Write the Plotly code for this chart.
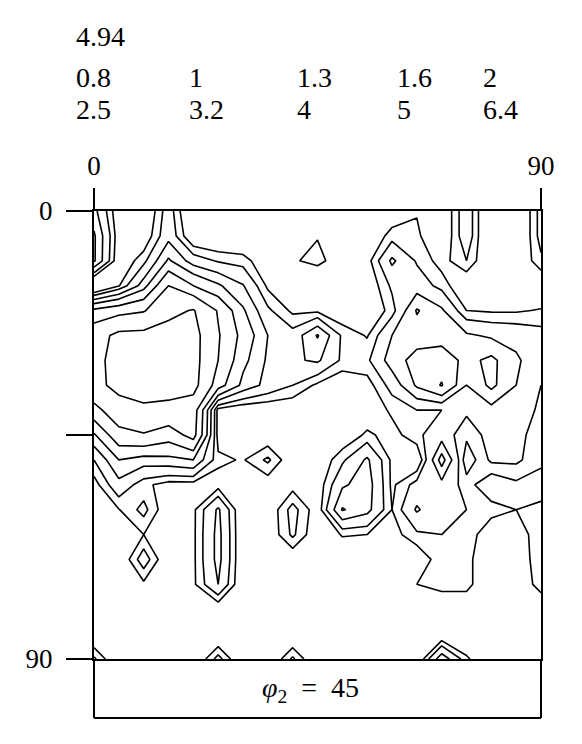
import plotly.graph_objects as go

# grid of the ODF section (phi1 across, Phi down), 5 degree steps
phi1 = list(range(0, 91, 5))
Phi = list(range(0, 91, 5))
levels = [0.8, 1, 1.3, 1.6, 2, 2.5, 3.2, 4, 5, 6.4]
legend_row1 = ["0.8", "1", "1.3", "1.6", "2"]
legend_row2 = ["2.5", "3.2", "4", "5", "6.4"]
max_label = "4.94"
x_ticks = [0, 90]
x_ticktext = ["0", "90"]
y_ticks = [0, 90]
y_ticktext = ["0", "90"]
y_minor_ticks = [45]

row_00 = [1.4, 0.6, 0.5, 1.15, 0.4, 0.5, 0.5, 0.5, 0.5, 0.55, 0.5, 0.5, 0.6, 0.78, 0.53, 1.2, 0.37, 0.42, 1.1]
row_05 = [1.65, 0.65, 0.61, 1.2, 0.55, 0.5, 0.5, 0.5, 0.6, 0.79, 0.6, 0.55, 0.9, 0.85, 0.53, 1.2, 0.37, 0.42, 1.1]
row_10 = [1.65, 0.6, 0.92, 1.65, 1.15, 0.97, 0.9, 0.6, 0.78, 0.85, 0.7, 0.7, 1.36, 0.97, 0.7, 1.0, 0.5, 0.55, 0.95]
row_15 = [0.3, 0.78, 1.45, 2.5, 2.0, 1.65, 1.32, 0.75, 0.6, 0.6, 0.6, 0.6, 1.05, 1.15, 0.92, 0.55, 0.45, 0.5, 0.55]
row_20 = [2.1, 2.3, 2.45, 3.0, 3.25, 2.45, 1.65, 1.05, 0.75, 0.75, 0.6, 0.55, 0.9, 1.63, 1.35, 0.8, 0.77, 0.77, 0.82]
row_25 = [2.9, 3.37, 3.4, 3.5, 3.45, 2.55, 1.85, 1.3, 1.1, 1.63, 0.95, 0.78, 1.3, 1.45, 1.45, 1.35, 1.25, 1.2, 1.1]
row_30 = [3.0, 3.45, 3.5, 3.55, 3.45, 2.5, 1.7, 1.25, 1.25, 1.35, 0.95, 0.95, 1.45, 1.72, 1.8, 1.5, 1.68, 1.35, 1.1]
row_35 = [3.0, 3.4, 3.45, 3.5, 3.45, 2.2, 1.5, 1.2, 1.0, 0.75, 0.6, 0.7, 1.1, 1.65, 2.03, 1.3, 1.68, 1.3, 1.0]
row_40 = [2.3, 2.9, 3.1, 3.0, 2.8, 0.7, 0.6, 0.6, 0.6, 0.55, 0.55, 0.6, 0.85, 1.0, 1.0, 1.05, 1.2, 1.15, 0.95]
row_45 = [1.55, 2.3, 2.45, 2.2, 2.7, 0.7, 0.6, 0.6, 0.55, 0.55, 0.6, 0.85, 0.7, 0.95, 1.15, 0.85, 1.1, 1.1, 0.85]
row_50 = [1.0, 1.6, 1.45, 1.5, 1.6, 0.85, 0.78, 1.05, 0.6, 0.6, 0.95, 1.35, 0.75, 0.55, 1.75, 0.65, 1.05, 1.05, 0.85]
row_55 = [0.7, 1.2, 0.86, 0.7, 0.7, 0.7, 0.6, 0.65, 0.7, 0.65, 1.25, 1.45, 0.75, 1.1, 1.2, 0.9, 0.6, 0.75, 0.7]
row_60 = [0.6, 0.79, 1.08, 0.6, 0.75, 1.35, 0.55, 0.6, 1.1, 0.65, 1.63, 1.4, 0.8, 1.34, 1.05, 1.0, 0.9, 0.8, 0.85]
row_65 = [0.5, 0.55, 0.8, 0.55, 0.75, 1.4, 0.55, 0.6, 1.05, 0.6, 0.82, 0.8, 0.7, 0.95, 1.0, 0.95, 0.6, 0.6, 1.0]
row_70 = [0.5, 0.55, 1.15, 0.55, 0.75, 1.4, 0.55, 0.55, 0.6, 0.55, 0.6, 0.55, 0.5, 0.6, 0.95, 0.9, 0.5, 0.55, 1.0]
row_75 = [0.5, 0.5, 0.75, 0.5, 0.75, 1.3, 0.55, 0.5, 0.5, 0.5, 0.5, 0.5, 0.5, 0.8, 0.9, 0.9, 0.5, 0.6, 0.9]
row_80 = [0.5, 0.5, 0.5, 0.5, 0.5, 0.6, 0.5, 0.5, 0.5, 0.5, 0.5, 0.5, 0.5, 0.5, 0.55, 0.55, 0.5, 0.5, 0.6]
row_85 = [0.5, 0.45, 0.45, 0.45, 0.45, 0.5, 0.45, 0.45, 0.5, 0.45, 0.45, 0.45, 0.45, 0.45, 0.55, 0.5, 0.45, 0.45, 0.45]
row_90 = [1.05, 0.5, 0.45, 0.45, 0.5, 1.1, 0.5, 0.5, 1.05, 0.5, 0.45, 0.45, 0.45, 0.55, 1.5, 0.85, 0.5, 0.45, 0.45]

z = [row_00, row_05, row_10, row_15, row_20, row_25, row_30, row_35, row_40,
     row_45, row_50, row_55, row_60, row_65, row_70, row_75, row_80, row_85, row_90]

FONT = "Liberation Serif"
OFF = 8                      # page margin of the html body
PAGE_W, PAGE_H = 582, 744
L, R, T, B = 94, 541, 211, 659   # plot area in page pixels
W, H = PAGE_W - OFF, PAGE_H - OFF


def px(xp):
    return (xp - L) / (R - L)


def py(yp):
    return (B - yp) / (B - T)


fig = go.Figure()
for lv in levels:
    fig.add_trace(go.Contour(
        x=phi1, y=Phi, z=z, autocontour=False,
        contours=dict(start=lv, end=lv, size=1, coloring="none"),
        line=dict(color="black", width=1.6, smoothing=0),
        showscale=False, hoverinfo="skip"))

tickfont = dict(family=FONT, size=27, color="black")
axis_common = dict(showgrid=False, zeroline=False, showline=True, linewidth=2,
                   linecolor="black", mirror=True, ticks="outside", tickwidth=2,
                   tickcolor="black", tickfont=tickfont)

fig.update_layout(
    width=W, height=H,
    margin=dict(l=L - OFF, r=W - (R - OFF), t=T - OFF, b=H - (B - OFF), pad=0),
    paper_bgcolor="white", plot_bgcolor="white",
    showlegend=False,
    xaxis=dict(range=[0, 90], side="top", tickvals=x_ticks, ticktext=x_ticktext,
               ticklen=21, ticklabelstandoff=2, **axis_common),
    yaxis=dict(range=[90, 0], tickvals=y_ticks, ticktext=y_ticktext,
               ticklen=26, ticklabelstandoff=8,
               minor=dict(tickvals=y_minor_ticks, ticks="outside", ticklen=26,
                          tickwidth=2, tickcolor="black", showgrid=False),
               **axis_common),
)

# box below the section holding its label
box_bottom = 718
for x0, y0, x1, y1 in [(L, B, L, box_bottom), (R, B, R, box_bottom), (L, box_bottom, R, box_bottom)]:
    fig.add_shape(type="line", xref="paper", yref="paper",
                  x0=px(x0), y0=py(y0), x1=px(x1), y1=py(y1),
                  line=dict(color="black", width=2))

fig.add_annotation(xref="paper", yref="paper", x=px(310), y=py(689),
                   text="<i>φ</i><sub>2</sub>&nbsp; = &nbsp;45", showarrow=False,
                   font=dict(family=FONT, size=28, color="black"),
                   xanchor="center", yanchor="middle")

# level legend
legfont = dict(family=FONT, size=28, color="black")
fig.add_annotation(xref="paper", yref="paper", x=px(74), y=py(36), text=max_label,
                   showarrow=False, font=legfont, xanchor="left", yanchor="middle")
cols_x = [74, 187, 295, 395, 481]
for lab, xx in zip(legend_row1, cols_x):
    fig.add_annotation(xref="paper", yref="paper", x=px(xx), y=py(77), text=lab,
                       showarrow=False, font=legfont, xanchor="left", yanchor="middle")
for lab, xx in zip(legend_row2, cols_x):
    fig.add_annotation(xref="paper", yref="paper", x=px(xx), y=py(109), text=lab,
                       showarrow=False, font=legfont, xanchor="left", yanchor="middle")

fig.write_html("out.html")
